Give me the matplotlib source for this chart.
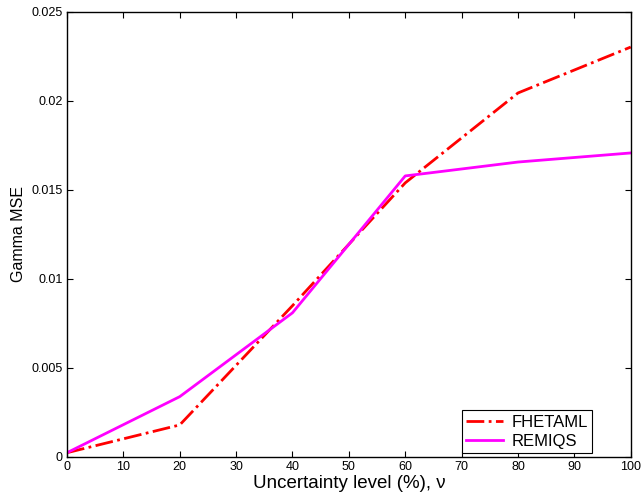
import numpy as np
import matplotlib
matplotlib.use('Agg')
import matplotlib.pyplot as plt

# data
nu = [0, 20, 40, 60, 80, 100]
fhetaml = [0.00024, 0.0018, 0.0085, 0.0154, 0.02045, 0.02303]
remiqs = [0.00024, 0.00339, 0.0081, 0.01579, 0.01657, 0.01708]

plt.rcParams['font.family'] = ['Liberation Sans', 'DejaVu Sans']

fig = plt.figure(figsize=(6.41, 4.95), dpi=100)
ax = fig.add_axes([0.1045, 0.0768, 0.8795, 0.899])

ax.plot(nu, fhetaml, color='#ff0000', linestyle='-.', linewidth=2, label='FHETAML')
ax.plot(nu, remiqs, color='#ff00ff', linestyle='-', linewidth=2, label='REMIQS')

ax.set_xlim(0, 100)
ax.set_ylim(0, 0.025)
ax.set_xticks(np.arange(0, 101, 10))
ax.set_yticks([0, 0.005, 0.01, 0.015, 0.02, 0.025])
ax.set_yticklabels(['0', '0.005', '0.01', '0.015', '0.02', '0.025'])
ax.tick_params(direction='in', top=True, right=True, labelsize=9, length=4, pad=3)
for s in ax.spines.values():
    s.set_linewidth(1.0)

ax.set_xlabel('Uncertainty level (%), \u03bd', fontsize=13.5, labelpad=1)
ax.set_ylabel('Gamma MSE', fontsize=11.5, labelpad=4)

leg = ax.legend(loc='lower right', bbox_to_anchor=(0.931, 0.009), fontsize=12,
                fancybox=False, framealpha=1, edgecolor='black', borderaxespad=0,
                handlelength=2.2, handletextpad=0.5, labelspacing=0.25,
                borderpad=0.25)
leg.get_frame().set_linewidth(0.8)

fig.savefig('out.png', dpi=100)
